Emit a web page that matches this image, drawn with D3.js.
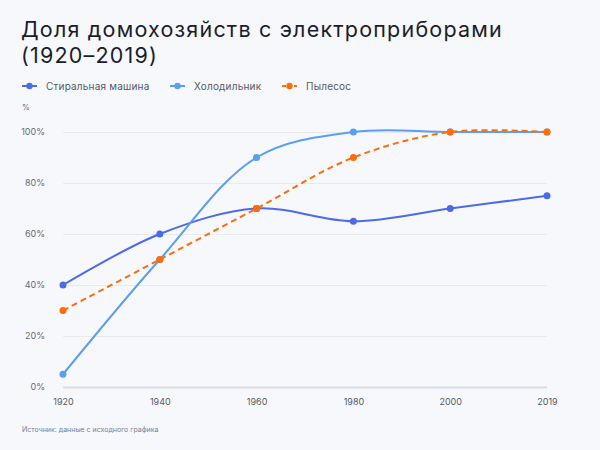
<!DOCTYPE html>
<html>
<head>
<meta charset="utf-8">
<script src="https://cdn.jsdelivr.net/npm/d3@7"></script>
<style>
  body { margin: 0; background: #f7f8fc; }
  svg { display: block; font-family: "Inter", "Noto Sans", sans-serif; }
</style>
</head>
<body>
<svg id="chart" width="600" height="450"></svg>
<script>
var years = ["1920", "1940", "1960", "1980", "2000", "2019"];
var washer = [40, 60, 70, 65, 70, 75];
var fridge = [5, 50, 90, 100, 100, 100];
var vacuum = [30, 50, 70, 90, 100, 100];
var yTicks = [0, 20, 40, 60, 80, 100];
var seriesNames = ["Стиральная машина", "Холодильник", "Пылесос"];
var titleLines = ["Доля домохозяйств с электроприборами", "(1920–2019)"];

var series = [
    { name: seriesNames[0], values: washer, color: "#4b6be8", dash: null },
    { name: seriesNames[1], values: fridge, color: "#5c9ef0", dash: null },
    { name: seriesNames[2], values: vacuum, color: "#ff6d0a", dash: "6,4" }
];

var svg = d3.select("#chart");
svg.append("rect").attr("width", 600).attr("height", 450).attr("fill", "#f7f8fc");

// title, two lines
svg.selectAll(".title")
    .data(titleLines)
    .enter()
    .append("text")
    .attr("class", "title")
    .attr("x", 21)
    .attr("y", function (d, i) { return 37 + i * 26; })
    .attr("fill", "#1b1d2a")
    .style("font-size", "21.5px")
    .style("letter-spacing", "1.2px")
    .text(function (d) { return d; });

// legend
var legendX = [22, 170, 282];
var legend = svg.selectAll(".legend")
    .data(series)
    .enter()
    .append("g")
    .attr("transform", function (d, i) { return "translate(" + legendX[i] + ",86)"; });
legend.append("line")
    .attr("x1", 0).attr("x2", 15)
    .attr("stroke", function (d) { return d.color; })
    .attr("stroke-width", 2)
    .attr("stroke-dasharray", function (d) { return d.dash ? "4,2" : null; });
legend.append("circle")
    .attr("cx", 7.5).attr("r", 3.2)
    .attr("fill", function (d) { return d.color; });
legend.append("text")
    .attr("x", 24).attr("dy", "0.35em")
    .attr("fill", "#555a66")
    .style("font-size", "10px")
    .style("letter-spacing", "0.2px")
    .text(function (d) { return d.name; });

var margin = { top: 132, left: 63, right: 53, bottom: 63 };
var width = 600 - margin.left - margin.right,
    height = 450 - margin.top - margin.bottom;

var x = d3.scalePoint().domain(years).range([0, width]);
var y = d3.scaleLinear().domain([0, 100]).range([height, 0]);

var g = svg.append("g").attr("transform", "translate(" + margin.left + "," + margin.top + ")");

// y axis label
svg.append("text")
    .attr("x", 22).attr("y", 110)
    .attr("fill", "#666b76")
    .style("font-size", "8px")
    .text("%");

// grid + y labels
var yAxis = g.append("g")
    .call(d3.axisLeft(y).tickValues(yTicks).tickSize(-width).tickFormat(function (d) { return d + "%"; }));
yAxis.select(".domain").remove();
yAxis.selectAll(".tick line")
    .attr("stroke", function (d) { return d === 0 ? "#d9dbe1" : "#e8eaef"; })
    .attr("stroke-width", function (d) { return d === 0 ? 2 : 1; });
yAxis.selectAll(".tick text")
    .attr("x", -18)
    .attr("fill", "#666b76")
    .style("font-size", "9px")
    .style("font-family", "Inter, sans-serif");

// x axis
var xAxis = g.append("g")
    .attr("transform", "translate(0," + height + ")")
    .call(d3.axisBottom(x).tickSize(0).tickPadding(12));
xAxis.select(".domain").remove();
xAxis.selectAll(".tick text")
    .attr("fill", "#555a66")
    .style("font-size", "9px")
    .style("font-family", "Inter, sans-serif");

// lines
var line = d3.line()
    .x(function (d, i) { return x(years[i]); })
    .y(function (d) { return y(d); })
    .curve(d3.curveCatmullRom.alpha(0.5));

series.forEach(function (s) {
    g.append("path")
        .datum(s.values)
        .attr("d", line)
        .attr("fill", "none")
        .attr("stroke", s.color)
        .attr("stroke-width", 2)
        .attr("stroke-dasharray", s.dash);
    g.selectAll(null)
        .data(s.values)
        .enter()
        .append("circle")
        .attr("cx", function (d, i) { return x(years[i]); })
        .attr("cy", function (d) { return y(d); })
        .attr("r", 3.5)
        .attr("fill", s.color);
});

// source
svg.append("text")
    .attr("x", 22).attr("y", 432)
    .attr("fill", "#7a7f8a")
    .style("font-size", "7px")
    .text("Источник: данные с исходного графика");
</script>
</body>
</html>
